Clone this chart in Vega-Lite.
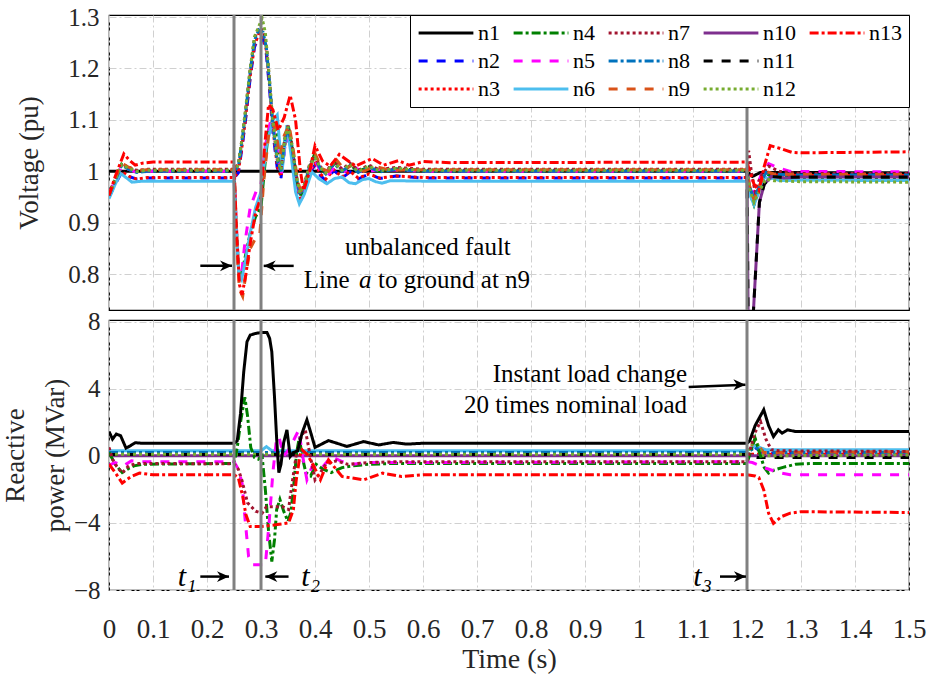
{
"$schema": "https://vega.github.io/schema/vega-lite/v6.json",
"padding": {"left": 0, "top": 4, "right": 4, "bottom": 4},
"spacing": 10,
"bounds": "flush",
"config": {
 "view": {"stroke": "black", "strokeWidth": 1.2},
 "axis": {"gridColor": "#d0d0d0", "gridDash": [7,3,2,3], "gridWidth": 1, "domain": false, "ticks": false, "labelColor": "#262626", "titleFontWeight": "normal", "titleColor": "#262626"},
 "legend": {"orient": "top-right", "direction": "vertical", "offset": 0, "columns": 5, "symbolType": "stroke", "symbolSize": 3000, "symbolStrokeWidth": 3, "clipHeight": 22, "labelColor": "black", "fillColor": "white", "strokeColor": "black", "padding": 7, "columnPadding": 12, "rowPadding": 6, "labelLimit": 0, "labelOffset": 3},
 "line": {"strokeCap": "butt", "strokeWidth": 3}
},
"datasets": {
 "volt": [
  {"s":"n1","t":0.0185,"v":1.0},{"s":"n1","t":1.2,"v":1.0},{"s":"n1","t":1.21,"v":0.99},{"s":"n1","t":1.225,"v":0.998},{"s":"n1","t":1.5,"v":0.997},

  {"s":"n2","t":0.0185,"v":0.95},{"s":"n2","t":0.03,"v":0.975},{"s":"n2","t":0.042,"v":0.998},{"s":"n2","t":0.055,"v":0.99},{"s":"n2","t":0.07,"v":0.985},{"s":"n2","t":0.09,"v":0.987},{"s":"n2","t":0.25,"v":0.987},
  {"s":"n2","t":0.258,"v":0.997},{"s":"n2","t":0.265,"v":1.047},{"s":"n2","t":0.271,"v":1.097},{"s":"n2","t":0.28,"v":1.182},{"s":"n2","t":0.288,"v":1.242},{"s":"n2","t":0.296,"v":1.262},{"s":"n2","t":0.304,"v":1.257},{"s":"n2","t":0.31,"v":1.227},{"s":"n2","t":0.316,"v":1.157},{"s":"n2","t":0.322,"v":1.077},{"s":"n2","t":0.33,"v":1.007},{"s":"n2","t":0.337,"v":0.987},{"s":"n2","t":0.344,"v":1.047},{"s":"n2","t":0.35,"v":1.072},{"s":"n2","t":0.357,"v":1.037},{"s":"n2","t":0.365,"v":0.977},{"s":"n2","t":0.372,"v":0.942},{"s":"n2","t":0.38,"v":0.957},{"s":"n2","t":0.39,"v":0.997},{"s":"n2","t":0.4,"v":1.012},{"s":"n2","t":0.41,"v":0.992},{"s":"n2","t":0.42,"v":0.982},{"s":"n2","t":0.435,"v":1.002},{"s":"n2","t":0.45,"v":0.987},{"s":"n2","t":0.465,"v":0.999},{"s":"n2","t":0.48,"v":0.985},{"s":"n2","t":0.5,"v":0.995},{"s":"n2","t":0.52,"v":0.986},{"s":"n2","t":0.55,"v":0.991},{"s":"n2","t":0.6,"v":0.987},{"s":"n2","t":1.2,"v":0.987},
  {"s":"n2","t":1.205,"v":0.965},{"s":"n2","t":1.213,"v":0.94},{"s":"n2","t":1.222,"v":0.962},{"s":"n2","t":1.235,"v":0.995},{"s":"n2","t":1.25,"v":0.99},{"s":"n2","t":1.3,"v":0.99},{"s":"n2","t":1.5,"v":0.99},

  {"s":"n3","t":0.0185,"v":0.952},{"s":"n3","t":0.03,"v":0.978},{"s":"n3","t":0.042,"v":1.0},{"s":"n3","t":0.055,"v":0.99},{"s":"n3","t":0.07,"v":0.985},{"s":"n3","t":0.09,"v":0.988},{"s":"n3","t":0.25,"v":0.988},
  {"s":"n3","t":0.258,"v":0.999},{"s":"n3","t":0.265,"v":1.05},{"s":"n3","t":0.271,"v":1.1},{"s":"n3","t":0.28,"v":1.185},{"s":"n3","t":0.288,"v":1.245},{"s":"n3","t":0.296,"v":1.268},{"s":"n3","t":0.304,"v":1.262},{"s":"n3","t":0.31,"v":1.235},{"s":"n3","t":0.316,"v":1.165},{"s":"n3","t":0.322,"v":1.085},{"s":"n3","t":0.33,"v":1.01},{"s":"n3","t":0.337,"v":0.99},{"s":"n3","t":0.344,"v":1.05},{"s":"n3","t":0.35,"v":1.075},{"s":"n3","t":0.357,"v":1.04},{"s":"n3","t":0.365,"v":0.98},{"s":"n3","t":0.372,"v":0.945},{"s":"n3","t":0.38,"v":0.96},{"s":"n3","t":0.39,"v":1.0},{"s":"n3","t":0.4,"v":1.015},{"s":"n3","t":0.41,"v":0.995},{"s":"n3","t":0.42,"v":0.985},{"s":"n3","t":0.435,"v":1.003},{"s":"n3","t":0.45,"v":0.989},{"s":"n3","t":0.465,"v":1.0},{"s":"n3","t":0.48,"v":0.987},{"s":"n3","t":0.5,"v":0.995},{"s":"n3","t":0.52,"v":0.987},{"s":"n3","t":0.55,"v":0.991},{"s":"n3","t":0.6,"v":0.988},{"s":"n3","t":1.2,"v":0.988},
  {"s":"n3","t":1.205,"v":0.97},{"s":"n3","t":1.213,"v":0.945},{"s":"n3","t":1.222,"v":0.965},{"s":"n3","t":1.235,"v":0.998},{"s":"n3","t":1.25,"v":0.993},{"s":"n3","t":1.3,"v":0.992},{"s":"n3","t":1.5,"v":0.992},

  {"s":"n4","t":0.0185,"v":0.956},{"s":"n4","t":0.03,"v":0.985},{"s":"n4","t":0.042,"v":1.014},{"s":"n4","t":0.055,"v":1.006},{"s":"n4","t":0.07,"v":1.0},{"s":"n4","t":0.09,"v":1.002},{"s":"n4","t":0.25,"v":1.002},
  {"s":"n4","t":0.254,"v":0.9},{"s":"n4","t":0.259,"v":0.8},{"s":"n4","t":0.264,"v":0.8},{"s":"n4","t":0.27,"v":0.83},{"s":"n4","t":0.28,"v":0.88},{"s":"n4","t":0.29,"v":0.912},{"s":"n4","t":0.3,"v":0.93},{"s":"n4","t":0.306,"v":1.0},{"s":"n4","t":0.314,"v":1.08},{"s":"n4","t":0.322,"v":1.1},{"s":"n4","t":0.33,"v":1.07},{"s":"n4","t":0.337,"v":1.0},{"s":"n4","t":0.345,"v":1.065},{"s":"n4","t":0.352,"v":1.08},{"s":"n4","t":0.36,"v":1.03},{"s":"n4","t":0.368,"v":0.97},{"s":"n4","t":0.375,"v":0.95},{"s":"n4","t":0.385,"v":0.99},{"s":"n4","t":0.398,"v":1.03},{"s":"n4","t":0.41,"v":1.005},{"s":"n4","t":0.422,"v":0.997},{"s":"n4","t":0.438,"v":1.018},{"s":"n4","t":0.452,"v":1.0},{"s":"n4","t":0.466,"v":1.012},{"s":"n4","t":0.48,"v":1.0},{"s":"n4","t":0.5,"v":1.009},{"s":"n4","t":0.52,"v":1.0},{"s":"n4","t":0.55,"v":1.005},{"s":"n4","t":0.6,"v":1.002},{"s":"n4","t":1.2,"v":1.002},
  {"s":"n4","t":1.205,"v":0.96},{"s":"n4","t":1.213,"v":0.935},{"s":"n4","t":1.222,"v":0.965},{"s":"n4","t":1.235,"v":0.995},{"s":"n4","t":1.25,"v":0.99},{"s":"n4","t":1.3,"v":0.986},{"s":"n4","t":1.5,"v":0.985},

  {"s":"n5","t":0.0185,"v":0.958},{"s":"n5","t":0.03,"v":0.982},{"s":"n5","t":0.042,"v":1.01},{"s":"n5","t":0.055,"v":1.004},{"s":"n5","t":0.07,"v":0.998},{"s":"n5","t":0.09,"v":1.0},{"s":"n5","t":0.25,"v":1.0},
  {"s":"n5","t":0.254,"v":0.9},{"s":"n5","t":0.259,"v":0.8},{"s":"n5","t":0.264,"v":0.8},{"s":"n5","t":0.27,"v":0.86},{"s":"n5","t":0.28,"v":0.93},{"s":"n5","t":0.293,"v":0.967},{"s":"n5","t":0.3,"v":0.975},{"s":"n5","t":0.308,"v":1.05},{"s":"n5","t":0.318,"v":1.1},{"s":"n5","t":0.328,"v":1.06},{"s":"n5","t":0.337,"v":0.99},{"s":"n5","t":0.347,"v":1.07},{"s":"n5","t":0.357,"v":1.04},{"s":"n5","t":0.367,"v":0.97},{"s":"n5","t":0.375,"v":0.95},{"s":"n5","t":0.39,"v":1.0},{"s":"n5","t":0.4,"v":1.022},{"s":"n5","t":0.41,"v":1.0},{"s":"n5","t":0.425,"v":0.995},{"s":"n5","t":0.44,"v":1.014},{"s":"n5","t":0.455,"v":1.0},{"s":"n5","t":0.47,"v":1.01},{"s":"n5","t":0.49,"v":0.998},{"s":"n5","t":0.52,"v":1.004},{"s":"n5","t":0.6,"v":1.0},{"s":"n5","t":1.2,"v":1.0},
  {"s":"n5","t":1.205,"v":0.975},{"s":"n5","t":1.213,"v":0.955},{"s":"n5","t":1.225,"v":0.99},{"s":"n5","t":1.24,"v":1.015},{"s":"n5","t":1.255,"v":1.008},{"s":"n5","t":1.28,"v":1.0},{"s":"n5","t":1.5,"v":0.999},

  {"s":"n6","t":0.0185,"v":0.947},{"s":"n6","t":0.03,"v":0.975},{"s":"n6","t":0.04,"v":0.996},{"s":"n6","t":0.05,"v":0.988},{"s":"n6","t":0.061,"v":0.979},{"s":"n6","t":0.08,"v":0.981},{"s":"n6","t":0.25,"v":0.981},
  {"s":"n6","t":0.254,"v":0.89},{"s":"n6","t":0.259,"v":0.8},{"s":"n6","t":0.264,"v":0.79},{"s":"n6","t":0.27,"v":0.82},{"s":"n6","t":0.28,"v":0.88},{"s":"n6","t":0.29,"v":0.93},{"s":"n6","t":0.3,"v":0.96},{"s":"n6","t":0.31,"v":1.05},{"s":"n6","t":0.322,"v":1.1},{"s":"n6","t":0.33,"v":1.11},{"s":"n6","t":0.339,"v":1.0},{"s":"n6","t":0.348,"v":1.09},{"s":"n6","t":0.356,"v":1.03},{"s":"n6","t":0.364,"v":0.96},{"s":"n6","t":0.371,"v":0.937},{"s":"n6","t":0.38,"v":0.955},{"s":"n6","t":0.394,"v":0.999},{"s":"n6","t":0.408,"v":0.985},{"s":"n6","t":0.422,"v":0.976},{"s":"n6","t":0.436,"v":0.986},{"s":"n6","t":0.45,"v":0.989},{"s":"n6","t":0.463,"v":0.978},{"s":"n6","t":0.475,"v":0.976},{"s":"n6","t":0.488,"v":0.984},{"s":"n6","t":0.5,"v":0.986},{"s":"n6","t":0.512,"v":0.98},{"s":"n6","t":0.524,"v":0.977},{"s":"n6","t":0.54,"v":0.982},{"s":"n6","t":0.6,"v":0.981},{"s":"n6","t":1.2,"v":0.981},
  {"s":"n6","t":1.205,"v":0.955},{"s":"n6","t":1.213,"v":0.935},{"s":"n6","t":1.222,"v":0.96},{"s":"n6","t":1.232,"v":0.99},{"s":"n6","t":1.24,"v":0.985},{"s":"n6","t":1.25,"v":0.987},{"s":"n6","t":1.26,"v":0.982},{"s":"n6","t":1.3,"v":0.983},{"s":"n6","t":1.5,"v":0.982},

  {"s":"n7","t":0.0185,"v":0.955},{"s":"n7","t":0.03,"v":0.985},{"s":"n7","t":0.042,"v":1.015},{"s":"n7","t":0.055,"v":1.008},{"s":"n7","t":0.07,"v":1.002},{"s":"n7","t":0.09,"v":1.004},{"s":"n7","t":0.25,"v":1.004},
  {"s":"n7","t":0.258,"v":1.014},{"s":"n7","t":0.265,"v":1.064},{"s":"n7","t":0.271,"v":1.114},{"s":"n7","t":0.28,"v":1.199},{"s":"n7","t":0.288,"v":1.259},{"s":"n7","t":0.296,"v":1.279},{"s":"n7","t":0.304,"v":1.274},{"s":"n7","t":0.31,"v":1.244},{"s":"n7","t":0.316,"v":1.174},{"s":"n7","t":0.322,"v":1.094},{"s":"n7","t":0.33,"v":1.024},{"s":"n7","t":0.337,"v":1.004},{"s":"n7","t":0.344,"v":1.064},{"s":"n7","t":0.35,"v":1.089},{"s":"n7","t":0.357,"v":1.054},{"s":"n7","t":0.365,"v":0.994},{"s":"n7","t":0.372,"v":0.959},{"s":"n7","t":0.38,"v":0.974},{"s":"n7","t":0.39,"v":1.014},{"s":"n7","t":0.4,"v":1.029},{"s":"n7","t":0.41,"v":1.009},{"s":"n7","t":0.42,"v":0.999},{"s":"n7","t":0.435,"v":1.019},{"s":"n7","t":0.45,"v":1.004},{"s":"n7","t":0.465,"v":1.016},{"s":"n7","t":0.48,"v":1.002},{"s":"n7","t":0.5,"v":1.012},{"s":"n7","t":0.52,"v":1.003},{"s":"n7","t":0.55,"v":1.008},{"s":"n7","t":0.6,"v":1.004},{"s":"n7","t":1.2,"v":1.004},
  {"s":"n7","t":1.203,"v":1.04},{"s":"n7","t":1.208,"v":1.0},{"s":"n7","t":1.215,"v":0.96},{"s":"n7","t":1.225,"v":0.99},{"s":"n7","t":1.24,"v":1.01},{"s":"n7","t":1.26,"v":1.0},{"s":"n7","t":1.3,"v":0.996},{"s":"n7","t":1.5,"v":0.996},

  {"s":"n8","t":0.0185,"v":0.953},{"s":"n8","t":0.03,"v":0.982},{"s":"n8","t":0.042,"v":1.012},{"s":"n8","t":0.055,"v":1.004},{"s":"n8","t":0.07,"v":0.998},{"s":"n8","t":0.09,"v":1.0},{"s":"n8","t":0.25,"v":1.0},
  {"s":"n8","t":0.258,"v":1.01},{"s":"n8","t":0.265,"v":1.06},{"s":"n8","t":0.271,"v":1.11},{"s":"n8","t":0.28,"v":1.195},{"s":"n8","t":0.288,"v":1.255},{"s":"n8","t":0.296,"v":1.275},{"s":"n8","t":0.304,"v":1.27},{"s":"n8","t":0.31,"v":1.24},{"s":"n8","t":0.316,"v":1.17},{"s":"n8","t":0.322,"v":1.09},{"s":"n8","t":0.33,"v":1.02},{"s":"n8","t":0.337,"v":1.0},{"s":"n8","t":0.344,"v":1.06},{"s":"n8","t":0.35,"v":1.085},{"s":"n8","t":0.357,"v":1.05},{"s":"n8","t":0.365,"v":0.99},{"s":"n8","t":0.372,"v":0.955},{"s":"n8","t":0.38,"v":0.97},{"s":"n8","t":0.39,"v":1.01},{"s":"n8","t":0.4,"v":1.025},{"s":"n8","t":0.41,"v":1.005},{"s":"n8","t":0.42,"v":0.995},{"s":"n8","t":0.435,"v":1.015},{"s":"n8","t":0.45,"v":1.0},{"s":"n8","t":0.465,"v":1.012},{"s":"n8","t":0.48,"v":0.998},{"s":"n8","t":0.5,"v":1.008},{"s":"n8","t":0.52,"v":0.999},{"s":"n8","t":0.55,"v":1.004},{"s":"n8","t":0.6,"v":1.0},{"s":"n8","t":1.2,"v":1.0},
  {"s":"n8","t":1.205,"v":0.97},{"s":"n8","t":1.213,"v":0.945},{"s":"n8","t":1.222,"v":0.97},{"s":"n8","t":1.235,"v":0.998},{"s":"n8","t":1.25,"v":0.994},{"s":"n8","t":1.3,"v":0.993},{"s":"n8","t":1.5,"v":0.993},

  {"s":"n9","t":0.0185,"v":0.955},{"s":"n9","t":0.03,"v":0.985},{"s":"n9","t":0.042,"v":1.016},{"s":"n9","t":0.055,"v":1.008},{"s":"n9","t":0.07,"v":1.002},{"s":"n9","t":0.09,"v":1.003},{"s":"n9","t":0.25,"v":1.003},
  {"s":"n9","t":0.254,"v":0.88},{"s":"n9","t":0.26,"v":0.77},{"s":"n9","t":0.266,"v":0.757},{"s":"n9","t":0.272,"v":0.8},{"s":"n9","t":0.28,"v":0.85},{"s":"n9","t":0.29,"v":0.87},{"s":"n9","t":0.298,"v":0.88},{"s":"n9","t":0.305,"v":0.98},{"s":"n9","t":0.315,"v":1.08},{"s":"n9","t":0.325,"v":1.09},{"s":"n9","t":0.335,"v":1.03},{"s":"n9","t":0.343,"v":1.07},{"s":"n9","t":0.352,"v":1.09},{"s":"n9","t":0.36,"v":1.04},{"s":"n9","t":0.368,"v":0.98},{"s":"n9","t":0.376,"v":0.955},{"s":"n9","t":0.388,"v":0.995},{"s":"n9","t":0.4,"v":1.035},{"s":"n9","t":0.413,"v":1.005},{"s":"n9","t":0.425,"v":1.0},{"s":"n9","t":0.44,"v":1.022},{"s":"n9","t":0.455,"v":1.003},{"s":"n9","t":0.47,"v":1.014},{"s":"n9","t":0.49,"v":1.0},{"s":"n9","t":0.51,"v":1.01},{"s":"n9","t":0.54,"v":1.002},{"s":"n9","t":0.6,"v":1.003},{"s":"n9","t":1.2,"v":1.003},
  {"s":"n9","t":1.205,"v":0.97},{"s":"n9","t":1.213,"v":0.945},{"s":"n9","t":1.222,"v":0.97},{"s":"n9","t":1.235,"v":1.0},{"s":"n9","t":1.25,"v":0.995},{"s":"n9","t":1.3,"v":0.994},{"s":"n9","t":1.5,"v":0.994},

  {"s":"n10","t":1.2,"v":1.0},{"s":"n10","t":1.205,"v":0.3},{"s":"n10","t":1.212,"v":0.73},{"s":"n10","t":1.223,"v":0.94},{"s":"n10","t":1.232,"v":0.975},{"s":"n10","t":1.245,"v":0.99},{"s":"n10","t":1.27,"v":0.987},{"s":"n10","t":1.3,"v":0.989},{"s":"n10","t":1.5,"v":0.989},
  {"s":"n11","t":1.2,"v":1.0},{"s":"n11","t":1.205,"v":0.3},{"s":"n11","t":1.212,"v":0.73},{"s":"n11","t":1.223,"v":0.94},{"s":"n11","t":1.232,"v":0.975},{"s":"n11","t":1.245,"v":0.99},{"s":"n11","t":1.27,"v":0.988},{"s":"n11","t":1.3,"v":0.989},{"s":"n11","t":1.5,"v":0.989},

  {"s":"n12","t":0.0185,"v":0.955},{"s":"n12","t":0.03,"v":0.984},{"s":"n12","t":0.042,"v":1.013},{"s":"n12","t":0.055,"v":1.006},{"s":"n12","t":0.07,"v":1.0},{"s":"n12","t":0.09,"v":1.002},{"s":"n12","t":0.25,"v":1.002},
  {"s":"n12","t":0.258,"v":1.012},{"s":"n12","t":0.265,"v":1.065},{"s":"n12","t":0.271,"v":1.118},{"s":"n12","t":0.28,"v":1.2},{"s":"n12","t":0.288,"v":1.262},{"s":"n12","t":0.296,"v":1.282},{"s":"n12","t":0.302,"v":1.298},{"s":"n12","t":0.308,"v":1.27},{"s":"n12","t":0.314,"v":1.2},{"s":"n12","t":0.32,"v":1.12},{"s":"n12","t":0.33,"v":1.025},{"s":"n12","t":0.337,"v":1.003},{"s":"n12","t":0.344,"v":1.063},{"s":"n12","t":0.35,"v":1.087},{"s":"n12","t":0.357,"v":1.052},{"s":"n12","t":0.365,"v":0.993},{"s":"n12","t":0.372,"v":0.958},{"s":"n12","t":0.38,"v":0.972},{"s":"n12","t":0.39,"v":1.012},{"s":"n12","t":0.4,"v":1.027},{"s":"n12","t":0.41,"v":1.007},{"s":"n12","t":0.42,"v":0.997},{"s":"n12","t":0.435,"v":1.017},{"s":"n12","t":0.45,"v":1.002},{"s":"n12","t":0.465,"v":1.014},{"s":"n12","t":0.48,"v":1.0},{"s":"n12","t":0.5,"v":1.01},{"s":"n12","t":0.52,"v":1.001},{"s":"n12","t":0.55,"v":1.006},{"s":"n12","t":0.6,"v":1.002},{"s":"n12","t":1.2,"v":1.002},
  {"s":"n12","t":1.205,"v":0.965},{"s":"n12","t":1.213,"v":0.94},{"s":"n12","t":1.222,"v":0.96},{"s":"n12","t":1.235,"v":0.985},{"s":"n12","t":1.25,"v":0.982},{"s":"n12","t":1.3,"v":0.98},{"s":"n12","t":1.5,"v":0.979},

  {"s":"n13","t":0.0185,"v":0.953},{"s":"n13","t":0.03,"v":0.99},{"s":"n13","t":0.046,"v":1.034},{"s":"n13","t":0.056,"v":1.022},{"s":"n13","t":0.067,"v":1.012},{"s":"n13","t":0.08,"v":1.016},{"s":"n13","t":0.1,"v":1.018},{"s":"n13","t":0.25,"v":1.018},
  {"s":"n13","t":0.254,"v":0.9},{"s":"n13","t":0.26,"v":0.78},{"s":"n13","t":0.265,"v":0.76},{"s":"n13","t":0.272,"v":0.8},{"s":"n13","t":0.28,"v":0.86},{"s":"n13","t":0.29,"v":0.92},{"s":"n13","t":0.3,"v":0.95},{"s":"n13","t":0.306,"v":1.04},{"s":"n13","t":0.314,"v":1.13},{"s":"n13","t":0.322,"v":1.12},{"s":"n13","t":0.332,"v":1.08},{"s":"n13","t":0.343,"v":1.105},{"s":"n13","t":0.354,"v":1.148},{"s":"n13","t":0.364,"v":1.1},{"s":"n13","t":0.373,"v":1.0},{"s":"n13","t":0.379,"v":0.963},{"s":"n13","t":0.39,"v":1.0},{"s":"n13","t":0.4,"v":1.05},{"s":"n13","t":0.414,"v":1.02},{"s":"n13","t":0.428,"v":1.01},{"s":"n13","t":0.445,"v":1.033},{"s":"n13","t":0.475,"v":1.01},{"s":"n13","t":0.506,"v":1.025},{"s":"n13","t":0.527,"v":1.012},{"s":"n13","t":0.555,"v":1.021},{"s":"n13","t":0.574,"v":1.012},{"s":"n13","t":0.601,"v":1.019},{"s":"n13","t":0.65,"v":1.017},{"s":"n13","t":1.2,"v":1.018},
  {"s":"n13","t":1.205,"v":1.0},{"s":"n13","t":1.213,"v":0.975},{"s":"n13","t":1.222,"v":0.963},{"s":"n13","t":1.232,"v":1.01},{"s":"n13","t":1.243,"v":1.05},{"s":"n13","t":1.26,"v":1.045},{"s":"n13","t":1.283,"v":1.037},{"s":"n13","t":1.3,"v":1.036},{"s":"n13","t":1.5,"v":1.038}
 ],
 "react": [
  {"s":"n2","t":0.0185,"q":0.15},{"s":"n2","t":1.2,"q":0.15},{"s":"n2","t":1.215,"q":0.5},{"s":"n2","t":1.23,"q":0.15},{"s":"n2","t":1.5,"q":0.15},
  {"s":"n3","t":0.0185,"q":0.1},{"s":"n3","t":1.5,"q":0.1},
  {"s":"n6","t":0.0185,"q":0.3},{"s":"n6","t":0.3,"q":0.3},{"s":"n6","t":0.31,"q":0.55},{"s":"n6","t":0.32,"q":0.3},{"s":"n6","t":1.2,"q":0.3},{"s":"n6","t":1.215,"q":0.6},{"s":"n6","t":1.235,"q":0.36},{"s":"n6","t":1.5,"q":0.36},
  {"s":"n8","t":0.0185,"q":0.2},{"s":"n8","t":1.2,"q":0.2},{"s":"n8","t":1.215,"q":0.5},{"s":"n8","t":1.235,"q":0.2},{"s":"n8","t":1.5,"q":0.2},
  {"s":"n9","t":0.0185,"q":0.05},{"s":"n9","t":1.2,"q":0.05},{"s":"n9","t":1.215,"q":1.0},{"s":"n9","t":1.23,"q":0.2},{"s":"n9","t":1.5,"q":0.25},
  {"s":"n10","t":0.0185,"q":0.0},{"s":"n10","t":1.5,"q":0.0},
  {"s":"n11","t":0.0185,"q":0.08},{"s":"n11","t":1.2,"q":0.08},{"s":"n11","t":1.22,"q":-0.1},{"s":"n11","t":1.5,"q":-0.1},
  {"s":"n12","t":0.0185,"q":0.1},{"s":"n12","t":1.2,"q":0.1},{"s":"n12","t":1.215,"q":1.0},{"s":"n12","t":1.23,"q":0.0},{"s":"n12","t":1.5,"q":0.05},

  {"s":"n4","t":0.0185,"q":0.2},{"s":"n4","t":0.03,"q":-0.5},{"s":"n4","t":0.043,"q":-1.0},{"s":"n4","t":0.055,"q":-0.75},{"s":"n4","t":0.065,"q":-0.6},{"s":"n4","t":0.08,"q":-0.5},{"s":"n4","t":0.25,"q":-0.45},{"s":"n4","t":0.256,"q":0.5},{"s":"n4","t":0.263,"q":2.2},{"s":"n4","t":0.27,"q":3.5},{"s":"n4","t":0.275,"q":2.4},{"s":"n4","t":0.281,"q":0.5},{"s":"n4","t":0.288,"q":-0.1},{"s":"n4","t":0.295,"q":-0.2},{"s":"n4","t":0.302,"q":0.0},{"s":"n4","t":0.308,"q":-2.0},{"s":"n4","t":0.314,"q":-4.5},{"s":"n4","t":0.32,"q":-6.3},{"s":"n4","t":0.325,"q":-5.0},{"s":"n4","t":0.329,"q":-3.2},{"s":"n4","t":0.335,"q":-2.6},{"s":"n4","t":0.342,"q":-3.3},{"s":"n4","t":0.35,"q":-3.9},{"s":"n4","t":0.355,"q":-3.4},{"s":"n4","t":0.36,"q":-2.0},{"s":"n4","t":0.366,"q":0.2},{"s":"n4","t":0.371,"q":1.1},{"s":"n4","t":0.376,"q":0.0},{"s":"n4","t":0.383,"q":-1.0},{"s":"n4","t":0.392,"q":-1.2},{"s":"n4","t":0.402,"q":-0.5},{"s":"n4","t":0.415,"q":-0.8},{"s":"n4","t":0.43,"q":-1.0},{"s":"n4","t":0.45,"q":-0.7},{"s":"n4","t":0.47,"q":-0.6},{"s":"n4","t":0.5,"q":-0.5},{"s":"n4","t":0.55,"q":-0.45},{"s":"n4","t":1.2,"q":-0.45},{"s":"n4","t":1.207,"q":0.3},{"s":"n4","t":1.215,"q":1.05},{"s":"n4","t":1.222,"q":0.3},{"s":"n4","t":1.232,"q":-0.7},{"s":"n4","t":1.24,"q":-1.03},{"s":"n4","t":1.25,"q":-0.85},{"s":"n4","t":1.265,"q":-0.7},{"s":"n4","t":1.29,"q":-0.5},{"s":"n4","t":1.32,"q":-0.45},{"s":"n4","t":1.5,"q":-0.45},

  {"s":"n5","t":0.0185,"q":-0.55},{"s":"n5","t":0.03,"q":-0.4},{"s":"n5","t":0.045,"q":-0.6},{"s":"n5","t":0.06,"q":-0.3},{"s":"n5","t":0.08,"q":-0.35},{"s":"n5","t":0.25,"q":-0.35},{"s":"n5","t":0.258,"q":-0.8},{"s":"n5","t":0.265,"q":-1.63},{"s":"n5","t":0.27,"q":-3.6},{"s":"n5","t":0.277,"q":-6.0},{"s":"n5","t":0.285,"q":-6.5},{"s":"n5","t":0.308,"q":-6.5},{"s":"n5","t":0.315,"q":-4.0},{"s":"n5","t":0.322,"q":-1.0},{"s":"n5","t":0.328,"q":0.8},{"s":"n5","t":0.333,"q":1.15},{"s":"n5","t":0.342,"q":0.0},{"s":"n5","t":0.35,"q":0.3},{"s":"n5","t":0.36,"q":0.9},{"s":"n5","t":0.37,"q":1.55},{"s":"n5","t":0.376,"q":0.2},{"s":"n5","t":0.385,"q":-1.43},{"s":"n5","t":0.395,"q":-0.6},{"s":"n5","t":0.41,"q":-0.84},{"s":"n5","t":0.43,"q":-0.04},{"s":"n5","t":0.45,"q":-0.34},{"s":"n5","t":0.47,"q":-0.5},{"s":"n5","t":0.5,"q":-0.4},{"s":"n5","t":0.55,"q":-0.4},{"s":"n5","t":1.2,"q":-0.35},{"s":"n5","t":1.21,"q":-0.4},{"s":"n5","t":1.225,"q":-0.6},{"s":"n5","t":1.235,"q":-0.74},{"s":"n5","t":1.26,"q":-1.0},{"s":"n5","t":1.28,"q":-1.13},{"s":"n5","t":1.5,"q":-1.13},

  {"s":"n7","t":0.0185,"q":0.5},{"s":"n7","t":0.025,"q":-0.2},{"s":"n7","t":0.033,"q":-0.64},{"s":"n7","t":0.043,"q":-1.03},{"s":"n7","t":0.055,"q":-0.6},{"s":"n7","t":0.07,"q":-0.45},{"s":"n7","t":0.25,"q":-0.48},{"s":"n7","t":0.258,"q":-0.8},{"s":"n7","t":0.265,"q":-1.5},{"s":"n7","t":0.275,"q":-2.8},{"s":"n7","t":0.29,"q":-3.3},{"s":"n7","t":0.302,"q":-3.42},{"s":"n7","t":0.31,"q":-3.03},{"s":"n7","t":0.34,"q":-3.03},{"s":"n7","t":0.351,"q":-3.2},{"s":"n7","t":0.356,"q":-2.0},{"s":"n7","t":0.365,"q":0.0},{"s":"n7","t":0.375,"q":1.2},{"s":"n7","t":0.382,"q":1.55},{"s":"n7","t":0.39,"q":0.2},{"s":"n7","t":0.4,"q":-1.43},{"s":"n7","t":0.41,"q":-1.0},{"s":"n7","t":0.42,"q":-0.5},{"s":"n7","t":0.44,"q":-0.3},{"s":"n7","t":0.46,"q":-0.5},{"s":"n7","t":0.5,"q":-0.4},{"s":"n7","t":0.55,"q":-0.35},{"s":"n7","t":1.2,"q":-0.35},{"s":"n7","t":1.207,"q":0.5},{"s":"n7","t":1.215,"q":1.4},{"s":"n7","t":1.225,"q":2.05},{"s":"n7","t":1.235,"q":1.0},{"s":"n7","t":1.245,"q":0.36},{"s":"n7","t":1.26,"q":0.3},{"s":"n7","t":1.5,"q":0.26},

  {"s":"n13","t":0.0185,"q":-0.5},{"s":"n13","t":0.03,"q":-1.0},{"s":"n13","t":0.043,"q":-1.63},{"s":"n13","t":0.052,"q":-1.4},{"s":"n13","t":0.06,"q":-1.23},{"s":"n13","t":0.075,"q":-1.03},{"s":"n13","t":0.1,"q":-1.13},{"s":"n13","t":0.25,"q":-1.13},{"s":"n13","t":0.258,"q":-1.3},{"s":"n13","t":0.266,"q":-2.4},{"s":"n13","t":0.272,"q":-3.5},{"s":"n13","t":0.28,"q":-4.22},{"s":"n13","t":0.3,"q":-4.22},{"s":"n13","t":0.33,"q":-4.1},{"s":"n13","t":0.351,"q":-4.0},{"s":"n13","t":0.36,"q":-3.2},{"s":"n13","t":0.365,"q":-1.5},{"s":"n13","t":0.372,"q":0.0},{"s":"n13","t":0.376,"q":0.36},{"s":"n13","t":0.385,"q":0.1},{"s":"n13","t":0.395,"q":-0.44},{"s":"n13","t":0.41,"q":-1.43},{"s":"n13","t":0.425,"q":-0.24},{"s":"n13","t":0.45,"q":-1.23},{"s":"n13","t":0.49,"q":-1.43},{"s":"n13","t":0.525,"q":-1.03},{"s":"n13","t":0.56,"q":-1.23},{"s":"n13","t":0.6,"q":-1.13},{"s":"n13","t":1.2,"q":-1.13},{"s":"n13","t":1.215,"q":-1.2},{"s":"n13","t":1.222,"q":-1.3},{"s":"n13","t":1.231,"q":-2.03},{"s":"n13","t":1.24,"q":-3.42},{"s":"n13","t":1.249,"q":-4.02},{"s":"n13","t":1.264,"q":-3.62},{"s":"n13","t":1.28,"q":-3.42},{"s":"n13","t":1.3,"q":-3.33},{"s":"n13","t":1.5,"q":-3.38},

  {"s":"n1","t":0.0185,"q":1.45},{"s":"n1","t":0.025,"q":1.0},{"s":"n1","t":0.032,"q":1.3},{"s":"n1","t":0.04,"q":1.2},{"s":"n1","t":0.05,"q":0.46},{"s":"n1","t":0.058,"q":0.6},{"s":"n1","t":0.067,"q":0.78},{"s":"n1","t":0.08,"q":0.75},{"s":"n1","t":0.25,"q":0.75},{"s":"n1","t":0.256,"q":0.9},{"s":"n1","t":0.262,"q":2.5},{"s":"n1","t":0.268,"q":5.0},{"s":"n1","t":0.274,"q":6.8},{"s":"n1","t":0.28,"q":7.2},{"s":"n1","t":0.29,"q":7.3},{"s":"n1","t":0.3,"q":7.35},{"s":"n1","t":0.311,"q":7.36},{"s":"n1","t":0.316,"q":7.0},{"s":"n1","t":0.32,"q":6.2},{"s":"n1","t":0.325,"q":3.5},{"s":"n1","t":0.329,"q":1.0},{"s":"n1","t":0.333,"q":-1.0},{"s":"n1","t":0.337,"q":-0.5},{"s":"n1","t":0.342,"q":0.8},{"s":"n1","t":0.348,"q":1.55},{"s":"n1","t":0.354,"q":-0.04},{"s":"n1","t":0.36,"q":0.2},{"s":"n1","t":0.368,"q":0.3},{"s":"n1","t":0.376,"q":1.35},{"s":"n1","t":0.385,"q":2.15},{"s":"n1","t":0.392,"q":1.4},{"s":"n1","t":0.4,"q":0.5},{"s":"n1","t":0.425,"q":0.91},{"s":"n1","t":0.459,"q":0.56},{"s":"n1","t":0.49,"q":0.85},{"s":"n1","t":0.518,"q":0.65},{"s":"n1","t":0.545,"q":0.8},{"s":"n1","t":0.57,"q":0.7},{"s":"n1","t":0.6,"q":0.75},{"s":"n1","t":1.2,"q":0.75},{"s":"n1","t":1.205,"q":0.9},{"s":"n1","t":1.215,"q":1.8},{"s":"n1","t":1.231,"q":2.75},{"s":"n1","t":1.24,"q":1.8},{"s":"n1","t":1.249,"q":1.15},{"s":"n1","t":1.258,"q":1.55},{"s":"n1","t":1.265,"q":1.35},{"s":"n1","t":1.275,"q":1.55},{"s":"n1","t":1.29,"q":1.45},{"s":"n1","t":1.5,"q":1.45}
 ],
 "events": [{"t":0.25},{"t":0.3},{"t":1.2}]
},
"vconcat": [
 {
  "width": 800, "height": 295,
  "layer": [
   {
    "data": {"name": "volt"},
    "mark": {"type": "line", "clip": true},
    "encoding": {
     "x": {"field": "t", "type": "quantitative", "scale": {"domain": [0.0185, 1.5], "nice": false, "zero": false}, "axis": {"values": [0.0185,0.1,0.2,0.3,0.4,0.5,0.6,0.7,0.8,0.9,1,1.1,1.2,1.3,1.4,1.5], "labels": false, "title": null, "grid": true, "minExtent": 0, "maxExtent": 0, "labelPadding": 0}},
     "y": {"field": "v", "type": "quantitative", "scale": {"domain": [0.7305, 1.304], "nice": false, "zero": false}, "axis": {"values": [0.8,0.9,1,1.1,1.2,1.3], "labelExpr": "format(datum.value, '.2~f')", "title": "Voltage (pu)", "labelFont": "Times New Roman", "titleFont": "Times New Roman", "labelFontSize": 25, "titleFontSize": 27, "labelPadding": 10, "titlePadding": 24}},
     "color": {"field": "s", "type": "nominal", "scale": {"domain": ["n1","n2","n3","n4","n5","n6","n7","n8","n9","n10","n11","n12","n13"," "], "range": ["#000000","#0000ff","#ff0000","#008000","#ff00ff","#4dbeee","#a2142f","#0072bd","#d95319","#7e2f8e","#000000","#77ac30","#ff0000","rgba(0,0,0,0)"]}, "legend": {"title": null, "labelFont": "Times New Roman", "labelFontSize": 22}},
     "strokeDash": {"field": "s", "type": "nominal", "scale": {"domain": ["n1","n2","n3","n4","n5","n6","n7","n8","n9","n10","n11","n12","n13"," "], "range": [[1,0],[9,9],[3,3],[9,3,3,3],[9,9],[1,0],[3,3],[9,3,3,3],[9,9],[1,0],[9,9],[3,3],[9,3,3,3],[1,0]]}, "legend": {"title": null, "labelFont": "Times New Roman", "labelFontSize": 22}}
    }
   },
   {
    "data": {"name": "events"},
    "mark": {"type": "rule", "color": "#808080", "strokeWidth": 3},
    "encoding": {"x": {"field": "t", "type": "quantitative"}}
   },
   {
    "data": {"values": [{"t": 0.609, "v": 0.853, "label": "unbalanced fault"}]},
    "mark": {"type": "text", "font": "Times New Roman", "fontSize": 25, "align": "center", "baseline": "middle", "color": "black"},
    "encoding": {"x": {"field": "t", "type": "quantitative"}, "y": {"field": "v", "type": "quantitative"}, "text": {"field": "label"}}
   },
   {
    "data": {"values": [{"t": 0.379, "v": 0.789, "label": "Line"}, {"t": 0.5167, "v": 0.789, "label": "to ground at n9"}]},
    "mark": {"type": "text", "font": "Times New Roman", "fontSize": 25, "align": "left", "baseline": "middle", "color": "black"},
    "encoding": {"x": {"field": "t", "type": "quantitative"}, "y": {"field": "v", "type": "quantitative"}, "text": {"field": "label"}}
   },
   {
    "data": {"values": [{"t": 0.4815, "v": 0.789, "label": "a"}]},
    "mark": {"type": "text", "font": "Times New Roman", "fontSize": 25, "fontStyle": "italic", "align": "left", "baseline": "middle", "color": "black"},
    "encoding": {"x": {"field": "t", "type": "quantitative"}, "y": {"field": "v", "type": "quantitative"}, "text": {"field": "label"}}
   },
   {
    "data": {"values": [{"t": 0.1876, "t2": 0.2463, "v": 0.8163}, {"t": 0.305, "t2": 0.3605, "v": 0.8163}]},
    "mark": {"type": "rule", "color": "black", "strokeWidth": 2.5},
    "encoding": {"x": {"field": "t", "type": "quantitative"}, "x2": {"field": "t2"}, "y": {"field": "v", "type": "quantitative"}}
   },
   {
    "data": {"values": [{"t": 0.2463, "v": 0.8163}]},
    "mark": {"type": "point", "shape": "M 0 0 L -1 -0.45 L -0.7 0 L -1 0.45 Z", "filled": true, "color": "black", "size": 576, "opacity": 1},
    "encoding": {"x": {"field": "t", "type": "quantitative"}, "y": {"field": "v", "type": "quantitative"}}
   },
   {
    "data": {"values": [{"t": 0.305, "v": 0.8163}]},
    "mark": {"type": "point", "shape": "M 0 0 L 1 -0.45 L 0.7 0 L 1 0.45 Z", "filled": true, "color": "black", "size": 576, "opacity": 1},
    "encoding": {"x": {"field": "t", "type": "quantitative"}, "y": {"field": "v", "type": "quantitative"}}
   }
  ]
 },
 {
  "width": 800, "height": 270,
  "layer": [
   {
    "data": {"name": "react"},
    "mark": {"type": "line", "clip": true},
    "encoding": {
     "x": {"field": "t", "type": "quantitative", "scale": {"domain": [0.0185, 1.5], "nice": false, "zero": false}, "axis": {"values": [0.0185,0.1,0.2,0.3,0.4,0.5,0.6,0.7,0.8,0.9,1,1.1,1.2,1.3,1.4,1.5], "labelExpr": "datum.value < 0.05 ? '0' : format(datum.value, '.1~f')", "labelFlush": false, "labelOverlap": false, "labelFont": "Times New Roman", "titleFont": "Times New Roman", "labelFontSize": 27, "labelPadding": 26, "title": "Time (s)", "titlePadding": 3, "titleFontSize": 28}},
     "y": {"field": "q", "type": "quantitative", "scale": {"domain": [-8, 8.1], "nice": false, "zero": false}, "axis": {"values": [-8,-4,0,4,8], "title": ["Reactive", "power (MVar)"], "labelFont": "Times New Roman", "titleFont": "Times New Roman", "labelFontSize": 25, "titleFontSize": 27, "titleLineHeight": 40, "labelPadding": 9, "titlePadding": 4}},
     "color": {"field": "s", "type": "nominal", "scale": {"domain": ["n1","n2","n3","n4","n5","n6","n7","n8","n9","n10","n11","n12","n13"," "], "range": ["#000000","#0000ff","#ff0000","#008000","#ff00ff","#4dbeee","#a2142f","#0072bd","#d95319","#7e2f8e","#000000","#77ac30","#ff0000","rgba(0,0,0,0)"]}, "legend": {"title": null, "labelFont": "Times New Roman", "labelFontSize": 22}},
     "strokeDash": {"field": "s", "type": "nominal", "scale": {"domain": ["n1","n2","n3","n4","n5","n6","n7","n8","n9","n10","n11","n12","n13"," "], "range": [[1,0],[9,9],[3,3],[9,3,3,3],[9,9],[1,0],[3,3],[9,3,3,3],[9,9],[1,0],[9,9],[3,3],[9,3,3,3],[1,0]]}, "legend": {"title": null, "labelFont": "Times New Roman", "labelFontSize": 22}}
    }
   },
   {
    "data": {"name": "events"},
    "mark": {"type": "rule", "color": "#808080", "strokeWidth": 3},
    "encoding": {"x": {"field": "t", "type": "quantitative"}}
   },
   {
    "data": {"values": [{"t": 0.163, "q": -7.2, "label": "t₁"}, {"t": 0.392, "q": -7.2, "label": "t₂"}, {"t": 1.118, "q": -7.2, "label": "t₃"}]},
    "mark": {"type": "text", "font": "Times New Roman", "fontSize": 30, "fontStyle": "italic", "align": "center", "baseline": "middle", "color": "black"},
    "encoding": {"x": {"field": "t", "type": "quantitative"}, "y": {"field": "q", "type": "quantitative"}, "text": {"field": "label"}}
   },
   {
    "data": {"values": [{"t": 1.0889, "q": 4.9, "label": "Instant load change"}, {"t": 1.0889, "q": 3.04, "label": "20 times nominal load"}]},
    "mark": {"type": "text", "font": "Times New Roman", "fontSize": 25, "align": "right", "baseline": "middle", "color": "black"},
    "encoding": {"x": {"field": "t", "type": "quantitative"}, "y": {"field": "q", "type": "quantitative"}, "text": {"field": "label"}}
   },
   {
    "data": {"values": [{"t": 0.1876, "t2": 0.2407, "q": -7.2, "q2": -7.2}, {"t": 0.308, "t2": 0.351, "q": -7.2, "q2": -7.2}, {"t": 1.15, "t2": 1.198, "q": -7.2, "q2": -7.2}, {"t": 1.092, "t2": 1.197, "q": 4.1, "q2": 4.24}]},
    "mark": {"type": "rule", "color": "black", "strokeWidth": 2.5},
    "encoding": {"x": {"field": "t", "type": "quantitative"}, "x2": {"field": "t2"}, "y": {"field": "q", "type": "quantitative"}, "y2": {"field": "q2"}}
   },
   {
    "data": {"values": [{"t": 0.2407, "q": -7.2}, {"t": 1.198, "q": -7.2}, {"t": 1.197, "q": 4.24}]},
    "mark": {"type": "point", "shape": "M 0 0 L -1 -0.45 L -0.7 0 L -1 0.45 Z", "filled": true, "color": "black", "size": 576, "opacity": 1},
    "encoding": {"x": {"field": "t", "type": "quantitative"}, "y": {"field": "q", "type": "quantitative"}}
   },
   {
    "data": {"values": [{"t": 0.308, "q": -7.2}]},
    "mark": {"type": "point", "shape": "M 0 0 L 1 -0.45 L 0.7 0 L 1 0.45 Z", "filled": true, "color": "black", "size": 576, "opacity": 1},
    "encoding": {"x": {"field": "t", "type": "quantitative"}, "y": {"field": "q", "type": "quantitative"}}
   }
  ]
 }
]
}
